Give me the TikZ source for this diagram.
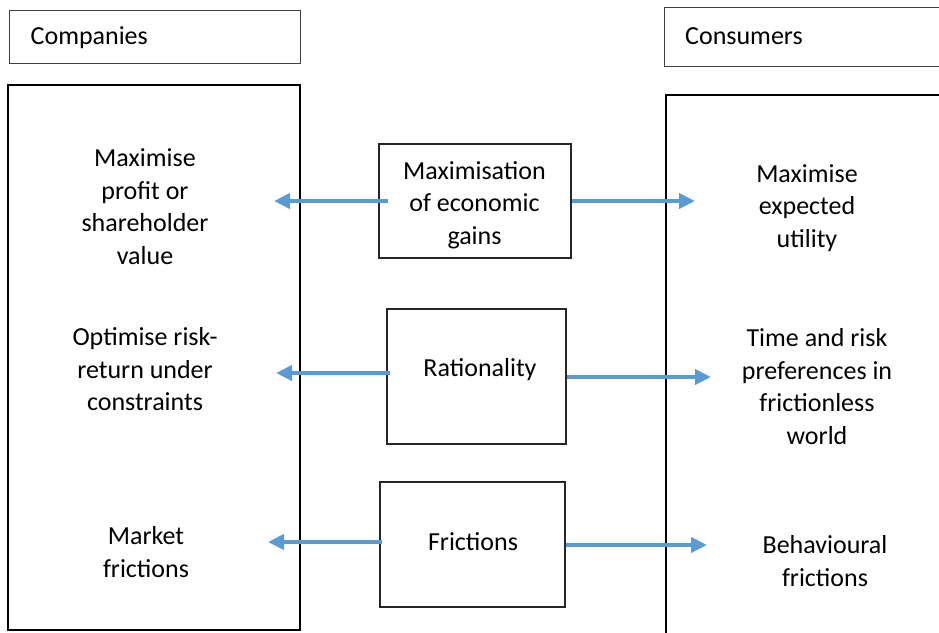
\documentclass[tikz,border=0pt]{standalone}
\usepackage{fontspec}
\setmainfont{Carlito}
\usetikzlibrary{arrows.meta}
\definecolor{arrblue}{HTML}{5B9BD5}
\begin{document}
\begin{tikzpicture}[x=1pt,y=-1pt,
  lbl/.style={align=center, font=\fontsize{26}{32.5}\selectfont, inner sep=0pt},
  hbox/.style={draw=black!75, line width=1pt, rectangle, inner sep=0pt},
  openhbox/.style={draw=black!75, line width=1pt},
  bigbox/.style={draw=black, line width=2.5pt, rectangle, inner sep=0pt},
  openbig/.style={draw=black, line width=2.5pt},
  mbox/.style={draw=black!85, line width=1.3pt, rectangle, inner sep=0pt},
  arr/.style={draw=arrblue, line width=4pt, -{Triangle[length=16pt,width=15pt]}}]
\useasboundingbox (0,0) rectangle (939,632);
\clip (0,0) rectangle (939,632);
% headers
\node[hbox, minimum width=291pt, minimum height=53pt] (chead) at (154.5,36.5) {};
\node[lbl, anchor=west] (ctext) at (30.5,38) {Companies};
\node[rectangle, inner sep=0pt, minimum width=300pt, minimum height=58pt] (khead) at (815,37) {};
\draw[openhbox] (khead.north east) -- (khead.north west) -- (khead.south west) -- (khead.south east);
\node[lbl, anchor=west] (ktext) at (685,36.5) {Consumers};
% big boxes
\node[bigbox, minimum width=292pt, minimum height=545pt] (cbox) at (154,357.5) {};
\node[rectangle, inner sep=0pt, minimum width=300pt, minimum height=560pt] (kbox) at (816,375) {};
\draw[openbig] (kbox.north east) -- (kbox.north west) -- (kbox.south west);
% middle boxes
\node[mbox, minimum width=192pt, minimum height=114pt] (m1) at (475,201) {};
\node[lbl] (m1t) at (474.5,205) {Maximisation\\of economic\\gains};
\node[mbox, minimum width=179pt, minimum height=135pt] (m2) at (476.5,376.5) {};
\node[lbl] (m2t) at (480,370) {Rationality};
\node[mbox, minimum width=185pt, minimum height=125pt] (m3) at (472.5,544.5) {};
\node[lbl] (m3t) at (473,542) {Frictions};
% left labels
\node[lbl] (l1) at (145,206.5) {Maximise\\profit or\\shareholder\\value};
\node[lbl] (l2) at (145,369.5) {Optimise risk-\\return under\\constraints};
\node[lbl] (l3) at (146,552) {Market\\frictions};
% right labels
\node[lbl] (r1) at (807,208) {Maximise\\expected\\utility};
\node[lbl] (r2) at (817,386.5) {Time and risk\\preferences in\\frictionless\\world};
\node[lbl] (r3) at (825,561) {Behavioural\\frictions};
% arrow tips
\coordinate (t1l) at (274,201);
\coordinate (t1r) at (695,201);
\coordinate (t2l) at (276,373);
\coordinate (t2r) at (711,377);
\coordinate (t3l) at (268,542);
\coordinate (t3r) at (707,545);
% arrows
\draw[arr] (m1.west |- t1l) ++(10,0) -- (t1l);
\draw[arr] (m1.east |- t1r) -- (t1r);
\draw[arr] (m2.west |- t2l) ++(4,0) -- (t2l);
\draw[arr] (m2.east |- t2r) -- (t2r);
\draw[arr] (m3.west |- t3l) ++(3,0) -- (t3l);
\draw[arr] (m3.east |- t3r) -- (t3r);
\end{tikzpicture}
\end{document}
